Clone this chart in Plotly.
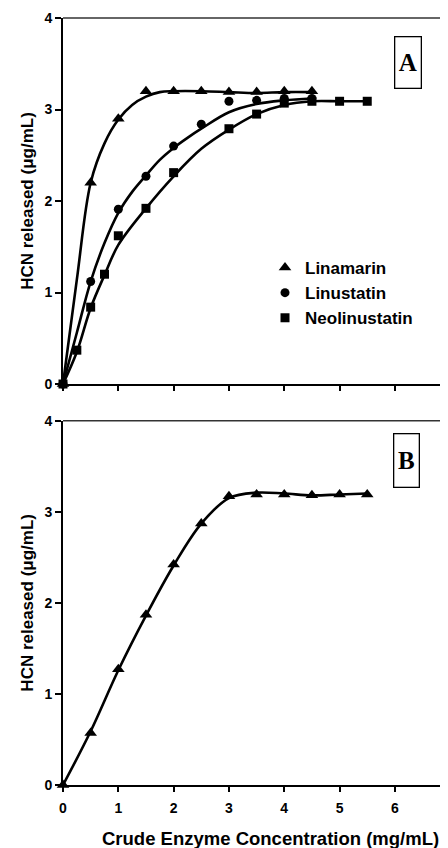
import plotly.graph_objects as go

# ---- measured points (panel A) ----
lina_x = [0, 0.5, 1, 1.5, 2, 2.5, 3, 3.5, 4, 4.5]
lina_y = [0, 2.2, 2.9, 3.2, 3.2, 3.2, 3.19, 3.19, 3.2, 3.2]

linu_x = [0, 0.5, 1, 1.5, 2, 2.5, 3, 3.5, 4, 4.5]
linu_y = [0, 1.12, 1.91, 2.27, 2.6, 2.84, 3.09, 3.1, 3.12, 3.12]

neo_x = [0, 0.25, 0.5, 0.75, 1, 1.5, 2, 3, 3.5, 4, 4.5, 5, 5.5]
neo_y = [0, 0.37, 0.84, 1.2, 1.62, 1.92, 2.31, 2.79, 2.95, 3.07, 3.09, 3.09, 3.09]

# ---- fitted curves ----
lina_fit_x = [0, 0.25, 0.5, 0.75, 1, 1.25, 1.5, 1.75, 2, 2.5, 3, 3.5, 4, 4.5]
lina_fit_y = [0, 1.14, 2.2, 2.63, 2.89, 3.05, 3.14, 3.19, 3.2, 3.2, 3.19, 3.18, 3.19, 3.19]

linu_fit_x = [0, 0.25, 0.5, 0.75, 1, 1.25, 1.5, 1.75, 2, 2.25, 2.5, 3, 3.5, 4, 4.5]
linu_fit_y = [0, 0.56, 1.12, 1.54, 1.87, 2.1, 2.28, 2.45, 2.58, 2.69, 2.79, 2.97, 3.06, 3.1, 3.12]

neo_fit_x = [0, 0.25, 0.5, 0.75, 1, 1.5, 2, 2.5, 3, 3.5, 4, 4.5, 5, 5.5]
neo_fit_y = [0, 0.35, 0.83, 1.19, 1.52, 1.92, 2.27, 2.57, 2.78, 2.95, 3.05, 3.09, 3.09, 3.09]

# ---- panel B ----
b_x = [0, 0.5, 1, 1.5, 2, 2.5, 3, 3.5, 4, 4.5, 5, 5.5]
b_y = [0, 0.57, 1.27, 1.87, 2.42, 2.87, 3.17, 3.19, 3.19, 3.18, 3.19, 3.19]

b_fit_x = [0, 0.5, 1, 1.5, 2, 2.5, 3, 3.5, 4, 4.5, 5, 5.5]
b_fit_y = [0, 0.59, 1.26, 1.86, 2.41, 2.87, 3.15, 3.21, 3.2, 3.18, 3.19, 3.2]

x_ticks = [0, 1, 2, 3, 4, 5, 6]
y_ticks = [0, 1, 2, 3, 4]
x_title = "Crude Enzyme Concentration (mg/mL)"
y_title = "HCN released (μg/mL)"

FONT = "Liberation Sans, Arial, Helvetica, sans-serif"
SERIF = "Liberation Serif, Times New Roman, serif"
fig = go.Figure()


def add_curve(xs, ys, xa, ya):
    fig.add_trace(go.Scatter(x=xs, y=ys, mode="lines",
                             line=dict(color="black", width=2.6, shape="spline", smoothing=1.0),
                             xaxis=xa, yaxis=ya, showlegend=False, hoverinfo="skip", cliponaxis=False))


def add_points(xs, ys, name, symbol, size, xa, ya, legend):
    fig.add_trace(go.Scatter(x=xs, y=ys, mode="markers", name=name,
                             marker=dict(symbol=symbol, size=size, color="black"),
                             xaxis=xa, yaxis=ya, showlegend=legend, cliponaxis=False))


add_curve(lina_fit_x, lina_fit_y, "x", "y")
add_curve(linu_fit_x, linu_fit_y, "x", "y")
add_curve(neo_fit_x, neo_fit_y, "x", "y")
add_curve(b_fit_x, b_fit_y, "x2", "y2")
add_points(lina_x, lina_y, "Linamarin", "triangle-up", 11, "x", "y", True)
add_points(linu_x, linu_y, "Linustatin", "circle", 9, "x", "y", True)
add_points(neo_x, neo_y, "Neolinustatin", "square", 9, "x", "y", True)
add_points(b_x, b_y, "Linamarin", "triangle-up", 11, "x2", "y2", False)

XR = [0, 6.96]
common_x = dict(range=XR, tickvals=x_ticks, showgrid=False, zeroline=False, showline=True,
                linecolor="black", linewidth=2, ticks="outside", ticklen=5, tickwidth=2,
                tickcolor="black", mirror=False)
common_y = dict(range=[0, 4], tickvals=y_ticks, showgrid=False, zeroline=False, showline=True,
                linecolor="black", linewidth=2, ticks="outside", ticklen=6, tickwidth=2,
                tickcolor="black",
                tickfont=dict(family=FONT, size=14, color="black", weight="bold"),
                title=dict(text=y_title, font=dict(family=FONT, size=17, color="black", weight="bold"), standoff=6))

top_dom = [0.5228, 1.0]
bot_dom = [0.0, 0.475]

fig.update_layout(
    width=440, height=840,
    margin=dict(l=55, r=0, t=10, b=63),
    paper_bgcolor="white", plot_bgcolor="white",
    font=dict(family=FONT, color="black"),
    xaxis=dict(**common_x, anchor="y", showticklabels=False),
    yaxis=dict(**common_y, domain=top_dom, anchor="x"),
    xaxis2=dict(**common_x, anchor="y2", showticklabels=True, ticklabelstandoff=4,
                tickfont=dict(family=FONT, size=14, color="black", weight="bold")),
    yaxis2=dict(**common_y, domain=bot_dom, anchor="x2"),
    # inside tick overlays so the x ticks cross the axis line
    xaxis3=dict(range=XR, tickvals=x_ticks, overlaying="x", anchor="y", ticks="inside", ticklen=5, tickwidth=2,
                tickcolor="black", showticklabels=False, showgrid=False, zeroline=False, showline=False),
    xaxis4=dict(range=XR, tickvals=x_ticks, overlaying="x2", anchor="y2", ticks="inside", ticklen=5, tickwidth=2,
                tickcolor="black", showticklabels=False, showgrid=False, zeroline=False, showline=False),
    legend=dict(x=0.5247, y=0.6975, xanchor="left", yanchor="top", bgcolor="rgba(0,0,0,0)",
                font=dict(family=FONT, size=17, color="black", weight="bold"), itemwidth=30,
                tracegroupgap=0),
    showlegend=True,
)

# top frame lines of the two panels
fig.add_shape(type="line", xref="paper", yref="paper", x0=0, x1=1, y0=1.0, y1=1.0,
              line=dict(color="#333", width=1.5))
fig.add_shape(type="line", xref="paper", yref="paper", x0=0, x1=1, y0=0.475, y1=0.475,
              line=dict(color="#333", width=1.5))

# x axis title (offset like the original, so placed as annotation)
fig.add_annotation(text=x_title, xref="paper", yref="paper", x=0.54, y=-0.0704,
                   xanchor="center", yanchor="middle", showarrow=False,
                   font=dict(family=FONT, size=18.5, color="black", weight="bold"))

fig.add_annotation(text="A", xref="paper", yref="paper", x=0.897, y=0.942, xanchor="center", yanchor="middle",
                   showarrow=False, font=dict(family=SERIF, size=25, color="black", weight="bold"),
                   bordercolor="black", borderwidth=1.3, width=25, height=50, borderpad=0, bgcolor="white")
fig.add_annotation(text="B", xref="paper", yref="paper", x=0.891, y=0.4237, xanchor="center", yanchor="middle",
                   showarrow=False, font=dict(family=SERIF, size=25, color="black", weight="bold"),
                   bordercolor="black", borderwidth=1.3, width=24, height=52, borderpad=0, bgcolor="white")

fig.write_html("out.html")
